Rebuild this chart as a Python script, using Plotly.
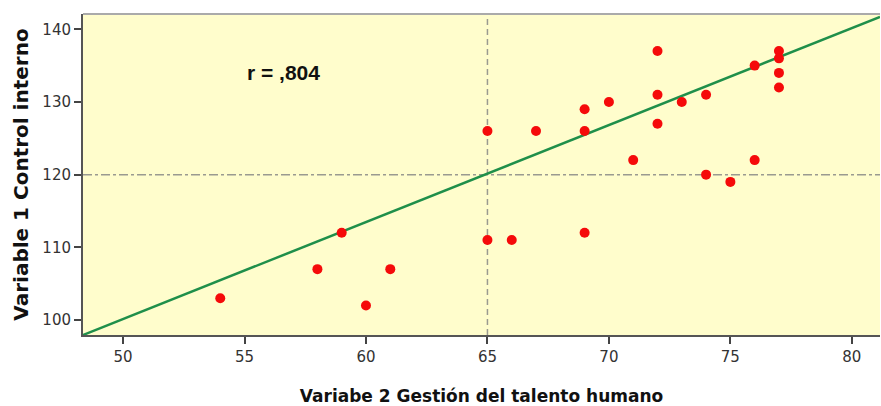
import plotly.graph_objects as go

# Variable 2 (x) and Variable 1 (y)
gestion_talento = [54, 58, 59, 60, 61, 65, 65, 66, 67, 69, 69, 69, 70, 71,
                   72, 72, 72, 73, 74, 74, 75, 76, 76, 77, 77, 77, 77]
control_interno = [103, 107, 112, 102, 107, 126, 111, 111, 126, 129, 126, 112, 130, 122,
                   137, 131, 127, 130, 131, 120, 119, 135, 122, 137, 136, 134, 132]

# fitted line and reference lines
fit_intercept = 33.44
fit_slope = 1.334
ref_x = 65
ref_y = 120

x_range = [48.35, 81.16]
y_range = [97.94, 142.1]
x_ticks = [50, 55, 60, 65, 70, 75, 80]
y_ticks = [100, 110, 120, 130, 140]

fit_x = x_range
fit_y = [fit_intercept + fit_slope * v for v in fit_x]

fig = go.Figure()

# reference lines
fig.add_shape(type='line', xref='x', yref='y', x0=ref_x, x1=ref_x,
              y0=y_range[0], y1=y_range[1],
              line=dict(color='#9a9a90', width=1.5, dash='6px,4px'), layer='below')
fig.add_shape(type='line', xref='x', yref='y', x0=x_range[0], x1=x_range[1],
              y0=ref_y, y1=ref_y,
              line=dict(color='#9a9a90', width=1.5, dash='9px,3px,3px,3px'), layer='below')

fig.add_trace(go.Scatter(
    x=fit_x, y=fit_y, mode='lines',
    line=dict(color='#1f8f4a', width=2.5),
    hoverinfo='skip', showlegend=False
))

fig.add_trace(go.Scatter(
    x=gestion_talento, y=control_interno, mode='markers',
    marker=dict(color='#f50a0a', size=10, line=dict(width=0)),
    showlegend=False
))

fig.add_annotation(x=56.6, y=134.1, xref='x', yref='y', text='<b>r = ,804</b>',
                   showarrow=False,
                   font=dict(family='Liberation Sans, Arial', size=21, color='#111111'))

fig.update_layout(
    width=881, height=406,
    margin=dict(l=83, r=1, t=14, b=71, autoexpand=False),
    paper_bgcolor='white',
    plot_bgcolor='#fffdcc',
    font=dict(family='DejaVu Sans', color='#333333'),
)

fig.update_xaxes(
    range=x_range, tickvals=x_ticks, showgrid=False, zeroline=False,
    ticks='outside', ticklen=7, tickwidth=1.5, tickcolor='#444444',
    showline=True, linecolor='#555555', linewidth=2, mirror=False,
    tickfont=dict(family='DejaVu Sans', size=15, color='#333333'),
    title=dict(text='<b>Variabe 2 Gestión del talento humano</b>',
               font=dict(family='DejaVu Sans', size=17, color='#111111'),
               standoff=27)
)
fig.update_yaxes(
    range=y_range, tickvals=y_ticks, showgrid=False, zeroline=False,
    ticks='outside', ticklen=7, tickwidth=1.5, tickcolor='#444444',
    showline=True, linecolor='#555555', linewidth=2, mirror=False,
    tickfont=dict(family='DejaVu Sans', size=15, color='#333333'),
    title=dict(text='<b>Variable 1 Control interno</b>',
               font=dict(family='DejaVu Sans', size=20, color='#111111'),
               standoff=8)
)

# light top border of the plot area
fig.add_shape(type='line', xref='paper', yref='paper', x0=0, x1=1, y0=1, y1=1,
              line=dict(color='#aaaaaa', width=2))

# drop the page margin so the figure sits at the window's corner
post = ("document.body.style.margin='0';document.body.style.overflow='hidden';"
        "Plotly.relayout(document.getElementById('{plot_id}'), {width: 881, height: 406});")

fig.write_html("out.html", post_script=post, config={'displayModeBar': False})
